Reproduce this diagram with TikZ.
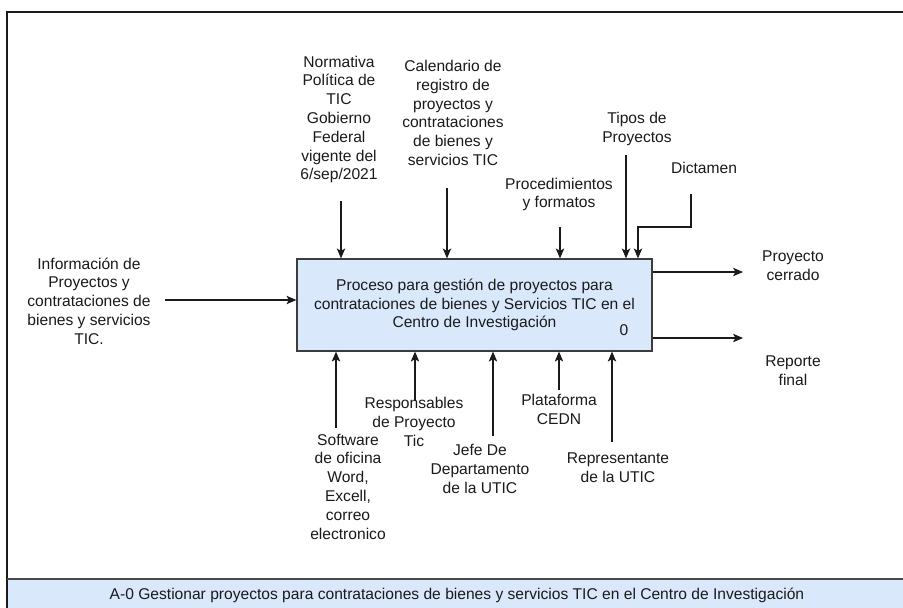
\documentclass[tikz,border=0pt]{standalone}
\usepackage{fontspec}
\setmainfont{Liberation Sans}
\usetikzlibrary{arrows.meta}
\definecolor{boxfill}{HTML}{DAE8FC}
\definecolor{ink}{HTML}{1A1A1A}
\tikzset{
  lbl/.style={align=center, inner sep=0pt, text=ink, font=\fontsize{15.6}{18.8}\selectfont},
  arr/.style={draw=ink, line width=1.1pt, -{Stealth[length=10pt,width=8.5pt,inset=2.5pt]}},
  procbox/.style={draw=ink!85, line width=1.2pt, fill=boxfill, minimum width=355pt, minimum height=92pt, inner sep=0pt}
}
\begin{document}
\begin{tikzpicture}[x=1pt,y=-1pt]
\useasboundingbox (0,0) rectangle (903,608);
\clip (0,0) rectangle (903,608);
\fill[white] (0,0) rectangle (903,608);
% outer frame and caption bar
\fill[boxfill] (7,579) rectangle (920,620);
\draw[ink, line width=1.3pt] (7,620) -- (7,12) -- (920,12);
\draw[ink!80, line width=1.1pt] (7,579) -- (920,579);
\node[lbl] (cap) at (457,595) {A-0 Gestionar proyectos para contrataciones de bienes y servicios TIC en el Centro de Investigación};

% process box
\node[procbox] (proc) at (474.5,305) {};
\node[lbl] (proctxt) at (474.5,305) {Proceso para gestión de proyectos para\\contrataciones de bienes y Servicios TIC en el\\Centro de Investigación};
\node[lbl] (num) at (624,330) {0};

% input
\node[lbl] (inp) at (89,301) {Información de\\Proyectos y\\contrataciones de\\bienes y servicios\\TIC.};
\coordinate (inS) at (165,300);
\draw[arr] (inS) -- (inS -| proc.west);

% outputs
\coordinate (o1) at (743,272);
\coordinate (o2) at (743,338);
\draw[arr] (o1 -| proc.east) -- (o1);
\draw[arr] (o2 -| proc.east) -- (o2);
\node[lbl] (out1) at (793,266) {Proyecto\\cerrado};
\node[lbl] (out2) at (793,371) {Reporte\\final};

% controls
\node[lbl] (c1) at (339,119.5) {Normativa\\Política de\\TIC\\Gobierno\\Federal\\vigente del\\6/sep/2021};
\coordinate (c1s) at (341,201);
\draw[arr] (c1s) -- (c1s |- proc.north);
\node[lbl] (c2) at (453,113) {Calendario de\\registro de\\proyectos y\\contrataciones\\de bienes y\\servicios TIC};
\coordinate (c2s) at (447,188);
\draw[arr] (c2s) -- (c2s |- proc.north);
\node[lbl] (c3) at (559,194.5) {Procedimientos\\y formatos};
\coordinate (c3s) at (560,227);
\draw[arr] (c3s) -- (c3s |- proc.north);
\node[lbl] (c4) at (637,129) {Tipos de\\Proyectos};
\coordinate (c4s) at (626,155);
\draw[arr] (c4s) -- (c4s |- proc.north);
\node[lbl] (c5) at (704,168) {Dictamen};
\coordinate (c5s) at (691,194);
\coordinate (c5b) at (638,227);
\draw[arr] (c5s) -- (c5s |- c5b) -- (c5b) -- (c5b |- proc.north);

% mechanisms
\node[lbl] (m1) at (348,486.5) {Software\\de oficina\\Word,\\Excell,\\correo\\electronico};
\coordinate (m1s) at (336,428);
\draw[arr] (m1s) -- (m1s |- proc.south);
\node[lbl] (m2) at (414,422) {Responsables\\de Proyecto\\Tic};
\coordinate (m2s) at (415,401);
\draw[arr] (m2s) -- (m2s |- proc.south);
\node[lbl] (m3) at (480,469) {Jefe De\\Departamento\\de la UTIC};
\coordinate (m3s) at (493,436);
\draw[arr] (m3s) -- (m3s |- proc.south);
\node[lbl] (m4) at (559,409.5) {Plataforma\\CEDN};
\coordinate (m4s) at (559,390);
\draw[arr] (m4s) -- (m4s |- proc.south);
\node[lbl] (m5) at (618,467.5) {Representante\\de la UTIC};
\coordinate (m5s) at (612,442);
\draw[arr] (m5s) -- (m5s |- proc.south);
\end{tikzpicture}
\end{document}
